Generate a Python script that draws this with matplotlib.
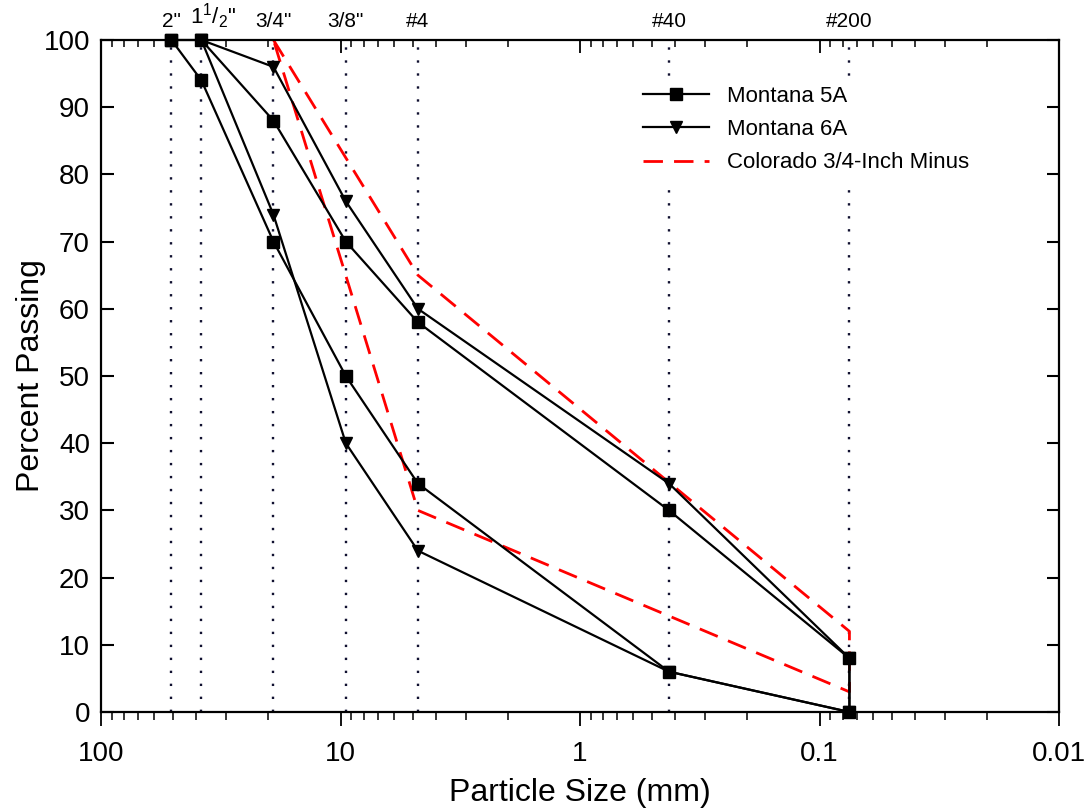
import matplotlib
matplotlib.use("Agg")
import matplotlib.pyplot as plt
from matplotlib.ticker import LogLocator, NullFormatter, FixedLocator

plt.rcParams['font.family'] = ['Liberation Sans', 'DejaVu Sans']
plt.rcParams['mathtext.fontset'] = 'custom'
plt.rcParams['mathtext.rm'] = 'Liberation Sans'
plt.rcParams['mathtext.it'] = 'Liberation Sans'

# Sieve sizes (mm) and labels
sieve_labels = ['2"', '1$^{\\mathregular{1}}$/$_{\\mathregular{2}}$"', '3/4"', '3/8"', '#4', '#40', '#200']
sieve_mm = [50.8, 38.1, 19.05, 9.5, 4.75, 0.425, 0.075]

# Montana 5A band (upper / lower limits)
m5a_upper = [100, 100, 88, 70, 58, 30, 8]
m5a_lower = [100, 94, 70, 50, 34, 6, 0]

# Montana 6A band (starts at 1 1/2")
m6a_sizes = [38.1, 19.05, 9.5, 4.75, 0.425, 0.075]
m6a_upper = [100, 96, 76, 60, 34, 8]
m6a_lower = [100, 74, 40, 24, 6, 0]

# Colorado 3/4-inch minus band
co_sizes = [19.05, 4.75, 0.075]
co_upper = [100, 65, 12]
co_lower = [100, 30, 3]

fig = plt.figure(figsize=(10.89, 8.11), dpi=100)
ax = fig.add_axes([101/1089, 1-712/811, (1059-101)/1089, (712-40)/811])

# vertical dotted sieve lines
for s in sieve_mm:
    ax.plot([s, s], [0, 100], linestyle=(0, (1, 4.5)), color='#101030', lw=1.7, zorder=1)

# Montana 5A band as a closed outline
x5 = sieve_mm + sieve_mm[::-1]
y5 = m5a_upper + m5a_lower[::-1]
ax.plot(x5, y5, color='black', lw=1.6, marker='s', ms=8, zorder=4, clip_on=False,
        label='Montana 5A')

# Montana 6A band
x6 = m6a_sizes + m6a_sizes[::-1]
y6 = m6a_upper + m6a_lower[::-1]
ax.plot(x6, y6, color='black', lw=1.6, marker='v', ms=8.5, zorder=3, clip_on=False,
        label='Montana 6A')

# Colorado band
xc = co_sizes + co_sizes[::-1]
yc = co_upper + co_lower[::-1]
ax.plot(xc, yc, color='#ff0000', lw=2, dashes=(7, 4), zorder=2,
        label='Colorado 3/4-Inch Minus')

ax.set_xscale('log')
ax.set_xlim(100, 0.01)
ax.set_ylim(0, 100)
ax.set_yticks(range(0, 101, 10))
ax.set_xticks([100, 10, 1, 0.1, 0.01])
ax.set_xticklabels(['100', '10', '1', '0.1', '0.01'])
ax.xaxis.set_minor_locator(LogLocator(base=10, subs=range(2, 10)))
ax.xaxis.set_minor_formatter(NullFormatter())

for sp in ax.spines.values():
    sp.set_linewidth(1.6)

ax.tick_params(axis='y', which='major', direction='in', length=9, width=1.5,
               labelsize=20, right=True, pad=8)
ax.tick_params(axis='x', which='major', direction='out', length=10, width=1.3,
               labelsize=20, top=False, pad=11)
ax.tick_params(axis='x', which='minor', direction='out', length=6, width=1.1, top=False)

# top axis with inward ticks and sieve labels
axt = ax.twiny()
axt.set_xscale('log')
axt.set_xlim(100, 0.01)
axt.xaxis.set_major_locator(FixedLocator([100, 10, 1, 0.1, 0.01]))
axt.xaxis.set_minor_locator(LogLocator(base=10, subs=range(2, 10)))
axt.xaxis.set_major_formatter(NullFormatter())
axt.xaxis.set_minor_formatter(NullFormatter())
axt.tick_params(axis='x', which='major', direction='in', length=9, width=1.3)
axt.tick_params(axis='x', which='minor', direction='in', length=5, width=1.1)
for sp in axt.spines.values():
    sp.set_visible(False)

label_offsets = [1.0, 0.89, 1.0, 1.0, 1.0, 1.0, 1.0]
for lab, s, f in zip(sieve_labels, sieve_mm, label_offsets):
    fs = 16 if lab.startswith('1$') else 15
    ax.text(s * f, 101.3, lab, ha='center', va='bottom', fontsize=fs)

ax.set_xlabel('Particle Size (mm)', fontsize=23, labelpad=8)
ax.set_ylabel('Percent Passing', fontsize=23, labelpad=-2)

leg = ax.legend(loc='upper left', bbox_to_anchor=(0.556, 0.945), fontsize=16,
                frameon=True, facecolor='white', edgecolor='none', framealpha=1,
                handlelength=3.0, handletextpad=0.8, labelspacing=0.55,
                borderaxespad=0)
leg.set_zorder(5)

fig.savefig('out.png', dpi=100)
